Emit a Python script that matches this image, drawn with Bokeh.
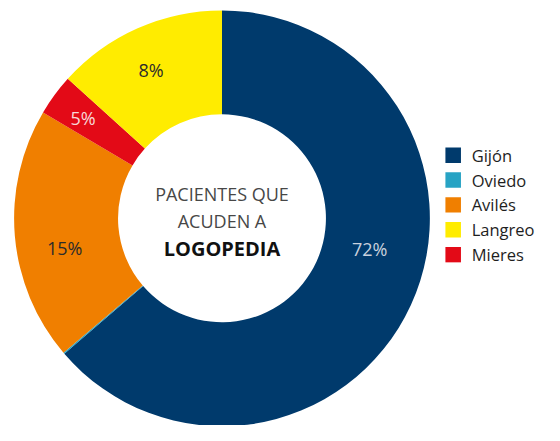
import numpy as np
from bokeh.plotting import figure
from bokeh.models import Range1d, ColumnDataSource
from bokeh.core.properties import value
from bokeh.embed import file_html
from bokeh.resources import INLINE

# Data (slice order clockwise from 12 o'clock)
cities = ["Gijón", "Oviedo", "Avilés", "Mieres", "Langreo"]
shares = [63.7, 0.1, 19.7, 3.2, 13.3]          # drawn proportions
colors = ["#003a6c", "#27a3c4", "#f07f00", "#e30a17", "#ffec00"]
labels = ["72%", "", "15%", "5%", "8%"]
label_colors = ["#c9d1dd", "#ffffff", "#2b2b2b", "#f8d8d8", "#2b2b2b"]

legend_order = ["Gijón", "Oviedo", "Avilés", "Langreo", "Mieres"]
center_lines = ["PACIENTES QUE", "ACUDEN A", "LOGOPEDIA"]

W, H = 544, 425          # screen size of the figure
RW, RH = 560, 441        # data space = reference pixel space
p = figure(width=W, height=H, output_backend="svg", toolbar_location=None,
           x_range=Range1d(0, RW), y_range=Range1d(0, RH), min_border=0)
p.axis.visible = False
p.grid.visible = False
p.outline_line_color = None
p.background_fill_color = "white"
p.border_fill_color = "white"

def py(y):  # reference y (top-down) -> data y
    return RH - y

cx, cy = 228, py(226)
frac = np.array(shares) / sum(shares)
cum = np.concatenate([[0], np.cumsum(frac)])
start = np.pi / 2 - 2 * np.pi * cum[:-1]
end = np.pi / 2 - 2 * np.pi * cum[1:]

src = ColumnDataSource(dict(start=start, end=end, color=colors))
p.annular_wedge(x=cx, y=cy, inner_radius=107, outer_radius=214,
                start_angle="start", end_angle="end", direction="clock",
                fill_color="color", line_color=None, source=src)

# slice labels (reference positions)
label_pos = [(380, 258), (0, 0), (66, 257), (85, 122), (155, 72)]
for lab, col, (lx, ly) in zip(labels, label_colors, label_pos):
    if lab:
        p.text(x=[lx], y=[py(ly)], text=[lab], text_color=col,
               text_font=value("Open Sans"), text_font_size="18px",
               text_align="center", text_baseline="middle")

# centre text
p.text(x=[cx], y=[py(201)], text=[center_lines[0]], text_color="#474747",
       text_font=value("Open Sans"), text_font_size="18px",
       text_align="center", text_baseline="middle")
p.text(x=[cx], y=[py(229)], text=[center_lines[1]], text_color="#474747",
       text_font=value("Open Sans"), text_font_size="18px",
       text_align="center", text_baseline="middle")
p.text(x=[cx], y=[py(257)], text=[center_lines[2]], text_color="#111111",
       text_font=value("Open Sans"), text_font_size="20px", text_font_style="bold",
       text_align="center", text_baseline="middle")

# legend
cmap = dict(zip(cities, colors))
for i, name in enumerate(legend_order):
    yy = py(160.5 + i * 25.8)
    p.rect(x=[466], y=[yy], width=16, height=16,
           fill_color=cmap[name], line_color=None)
    p.text(x=[485], y=[yy], text=[name], text_color="#1e1e1e",
           text_font=value("Open Sans"), text_font_size="16.5px",
           text_align="left", text_baseline="middle")

open("out.html", "w").write(file_html(p, INLINE))
